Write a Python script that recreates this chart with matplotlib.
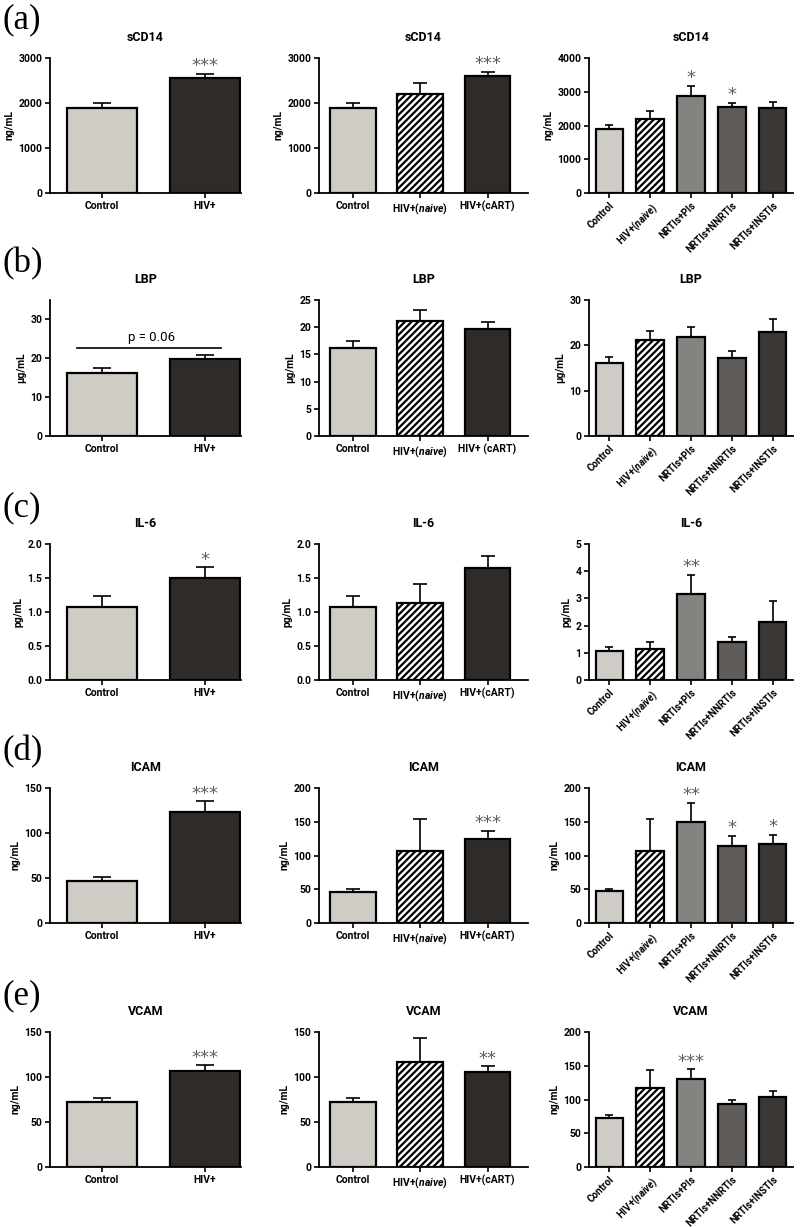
import numpy as np
import matplotlib
matplotlib.use("Agg")
import matplotlib.pyplot as plt
from matplotlib.ticker import MultipleLocator

plt.rcParams['font.family'] = ['Roboto', 'DejaVu Sans']
plt.rcParams['font.weight'] = 'bold'
plt.rcParams['mathtext.fontset'] = 'custom'
plt.rcParams['mathtext.it'] = 'Roboto:italic:bold'
plt.rcParams['mathtext.rm'] = 'Roboto:bold'
plt.rcParams['hatch.linewidth'] = 1.6

# group labels
groups_two = ['Control', 'HIV+']
groups_three = ['Control', 'HIV+($\\it{naive}$)', 'HIV+(cART)']
groups_three_lbp = ['Control', 'HIV+($\\it{naive}$)', 'HIV+ (cART)']
groups_five = ['Control', 'HIV+($\\it{naive}$)', 'NRTIs+PIs', 'NRTIs+NNRTIs', 'NRTIs+INSTIs']

# (a) sCD14, ng/mL
scd14_two = [1900, 2550]
scd14_two_err = [110, 95]
scd14_two_sig = ['', '***']
scd14_three = [1900, 2190, 2600]
scd14_three_err = [110, 245, 95]
scd14_three_sig = ['', '', '***']
scd14_five = [1900, 2190, 2880, 2560, 2530]
scd14_five_err = [110, 240, 300, 120, 160]
scd14_five_sig = ['', '', '*', '*', '']

# (b) LBP, ug/mL
lbp_two = [16.1, 19.7]
lbp_two_err = [1.3, 1.2]
lbp_three = [16.2, 21.1, 19.7]
lbp_three_err = [1.3, 2.0, 1.25]
lbp_five = [16.2, 21.1, 21.9, 17.1, 23.0]
lbp_five_err = [1.3, 2.1, 2.2, 1.6, 2.9]

# (c) IL-6, pg/mL
il6_two = [1.08, 1.50]
il6_two_err = [0.15, 0.155]
il6_two_sig = ['', '*']
il6_three = [1.08, 1.13, 1.64]
il6_three_err = [0.15, 0.28, 0.18]
il6_five = [1.08, 1.14, 3.16, 1.40, 2.12]
il6_five_err = [0.14, 0.27, 0.70, 0.19, 0.78]
il6_five_sig = ['', '', '**', '', '']

# (d) ICAM, ng/mL
icam_two = [46.7, 123.7]
icam_two_err = [4.5, 11.5]
icam_two_sig = ['', '***']
icam_three = [46, 106, 125]
icam_three_err = [5, 48, 12]
icam_three_sig = ['', '', '***']
icam_five = [47, 106, 150, 114, 117]
icam_five_err = [4, 48, 28, 15, 14]
icam_five_sig = ['', '', '**', '*', '*']

# (e) VCAM, ng/mL
vcam_two = [72, 107]
vcam_two_err = [4.5, 6]
vcam_two_sig = ['', '***']
vcam_three = [72, 117, 106]
vcam_three_err = [4.5, 26, 6]
vcam_three_sig = ['', '', '**']
vcam_five = [72, 117, 131, 93, 104]
vcam_five_err = [4.5, 26, 14, 6, 8]
vcam_five_sig = ['', '', '***', '', '']

LIGHT = '#cfcbc5'
DARK = '#2f2b28'
col_two = [LIGHT, DARK]
col_three = [LIGHT, 'white', DARK]
col_five = [LIGHT, 'white', '#858380', '#605c59', '#3b3734']

W, H = 800, 1227
fig = plt.figure(figsize=(8, 12.27), dpi=100)

cols_px = [(50, 241), (319, 528), (589, 793)]
rows_px = [(58, 193), (300, 436), (544, 680), (788, 923), (1032, 1167)]


def make_ax(r, c):
    x0, x1 = cols_px[c]
    y0, y1 = rows_px[r]
    return fig.add_axes([x0 / W, 1 - y1 / H, (x1 - x0) / W, (y1 - y0) / H])


def bars(ax, labels, vals, errs, colors, sig, title, ylab, ymax, step, cap, rot=False, xr=0.5):
    n = len(vals)
    x = np.arange(n)
    for i in range(n):
        hatch = '/////' if colors[i] == 'white' else None
        ax.bar(x[i], vals[i], width=0.68, color=colors[i], edgecolor='black',
               linewidth=1.6, hatch=hatch, zorder=3)
    ax.errorbar(x, vals, yerr=[np.zeros(n), errs], fmt='none', ecolor='black',
                elinewidth=1.2, capsize=cap, capthick=1.2, zorder=2)
    if sig:
        for i in range(n):
            if sig[i]:
                ax.annotate(sig[i], (x[i], vals[i] + errs[i]), xytext=(0, -1),
                            textcoords='offset points', ha='center', va='bottom',
                            fontsize=13, color='#5e5e5e', family='DejaVu Sans',
                            fontweight='normal')
    ax.set_xlim(-0.5, n - 1 + xr)
    ax.set_ylim(0, ymax)
    ax.yaxis.set_major_locator(MultipleLocator(step))
    ax.set_xticks(x)
    ax.tick_params(labelsize=7.5, width=1.2, length=3.5, pad=2)
    if rot:
        ax.set_xticklabels(labels, rotation=45, ha='right', rotation_mode='anchor', fontsize=7)
    else:
        ax.set_xticklabels(labels)
    ax.spines['top'].set_visible(False)
    ax.spines['right'].set_visible(False)
    for s in ['left', 'bottom']:
        ax.spines[s].set_linewidth(1.3)
    ax.set_title(title, fontsize=9, fontweight='bold', pad=12)
    ax.set_ylabel(ylab, fontsize=7.5, fontweight='bold', labelpad=3)


# row a
ax = make_ax(0, 0)
bars(ax, groups_two, scd14_two, scd14_two_err, col_two, scd14_two_sig, 'sCD14', 'ng/mL', 3000, 1000, 6.5, xr=0.35)
ax = make_ax(0, 1)
bars(ax, groups_three, scd14_three, scd14_three_err, col_three, scd14_three_sig, 'sCD14', 'ng/mL', 3000, 1000, 5, xr=0.6)
ax = make_ax(0, 2)
bars(ax, groups_five, scd14_five, scd14_five_err, col_five, scd14_five_sig, 'sCD14', 'ng/mL', 4000, 1000, 3, rot=True)

# row b
ax = make_ax(1, 0)
bars(ax, groups_two, lbp_two, lbp_two_err, col_two, None, 'LBP', 'µg/mL', 35, 10, 6.5, xr=0.35)
ax.plot([-0.24, 1.16], [22.7, 22.7], color='black', linewidth=1.2, zorder=4)
ax.text(0.48, 23.6, 'p = 0.06', ha='center', va='bottom', fontsize=9.5, fontweight='normal')
ax = make_ax(1, 1)
bars(ax, groups_three_lbp, lbp_three, lbp_three_err, col_three, None, 'LBP', 'µg/mL', 25, 5, 5, xr=0.6)
ax = make_ax(1, 2)
bars(ax, groups_five, lbp_five, lbp_five_err, col_five, None, 'LBP', 'µg/mL', 30, 10, 3, rot=True)

# row c
ax = make_ax(2, 0)
bars(ax, groups_two, il6_two, il6_two_err, col_two, il6_two_sig, 'IL-6', 'pg/mL', 2.0, 0.5, 6.5, xr=0.35)
ax = make_ax(2, 1)
bars(ax, groups_three, il6_three, il6_three_err, col_three, None, 'IL-6', 'pg/mL', 2.0, 0.5, 5, xr=0.6)
ax = make_ax(2, 2)
bars(ax, groups_five, il6_five, il6_five_err, col_five, il6_five_sig, 'IL-6', 'pg/mL', 5, 1, 3, rot=True)

# row d
ax = make_ax(3, 0)
bars(ax, groups_two, icam_two, icam_two_err, col_two, icam_two_sig, 'ICAM', 'ng/mL', 150, 50, 6.5, xr=0.35)
ax = make_ax(3, 1)
bars(ax, groups_three, icam_three, icam_three_err, col_three, icam_three_sig, 'ICAM', 'ng/mL', 200, 50, 5, xr=0.6)
ax = make_ax(3, 2)
bars(ax, groups_five, icam_five, icam_five_err, col_five, icam_five_sig, 'ICAM', 'ng/mL', 200, 50, 3, rot=True)

# row e
ax = make_ax(4, 0)
bars(ax, groups_two, vcam_two, vcam_two_err, col_two, vcam_two_sig, 'VCAM', 'ng/mL', 150, 50, 6.5, xr=0.35)
ax = make_ax(4, 1)
bars(ax, groups_three, vcam_three, vcam_three_err, col_three, vcam_three_sig, 'VCAM', 'ng/mL', 150, 50, 5, xr=0.6)
ax = make_ax(4, 2)
bars(ax, groups_five, vcam_five, vcam_five_err, col_five, vcam_five_sig, 'VCAM', 'ng/mL', 200, 50, 3, rot=True)

# panel letters
for lab, ypx in zip(['(a)', '(b)', '(c)', '(d)', '(e)'], [20, 264, 508, 752, 996]):
    fig.text(3 / W, 1 - ypx / H, lab, fontsize=25, family='Liberation Serif',
             fontweight='normal', va='center', ha='left')

fig.savefig('out.png', dpi=100)
